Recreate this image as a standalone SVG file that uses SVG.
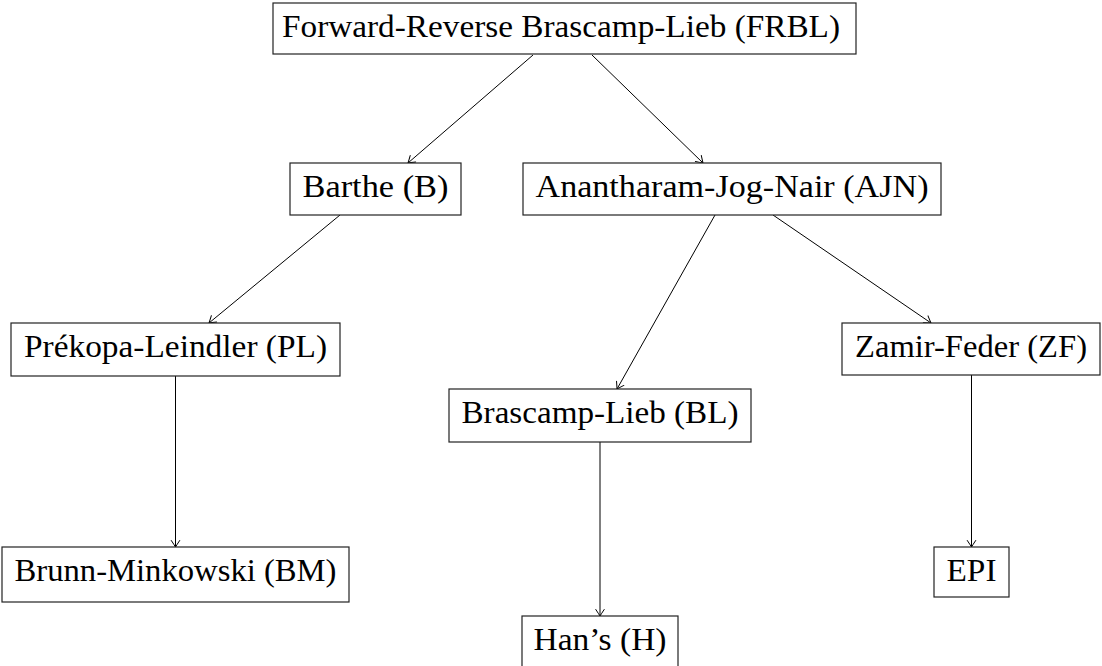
<svg xmlns="http://www.w3.org/2000/svg" width="1102" height="666" viewBox="0 0 1102 666">
<defs>
<marker id="to" markerUnits="userSpaceOnUse" markerWidth="12" markerHeight="12" viewBox="-8 -6 10 12" refX="0" refY="0" orient="auto">
<path d="M -6.5,-4.2 Q -2,-1.2 0,0 Q -2,1.2 -6.5,4.2" fill="none" stroke="#000" stroke-width="1" stroke-linecap="round"/>
</marker>
</defs>
<style>
.box{fill:#fff;stroke:#222;stroke-width:1.2}
.lbl{font-family:"Liberation Serif","Times New Roman",serif;font-size:31px;fill:#000;text-anchor:middle}
.edge{fill:none;stroke:#000;stroke-width:1;marker-end:url(#to)}
</style>
<rect width="1102" height="666" fill="#fff"/>
<g id="connectors">
<line class="edge" x1="533" y1="55" x2="408" y2="163"/>
<line class="edge" x1="592" y1="55" x2="703" y2="163"/>
<line class="edge" x1="340" y1="215" x2="209" y2="323"/>
<line class="edge" x1="715" y1="215" x2="617" y2="389"/>
<line class="edge" x1="773" y1="215" x2="931" y2="323"/>
<line class="edge" x1="175.5" y1="376" x2="175.5" y2="547"/>
<line class="edge" x1="600" y1="442" x2="600" y2="616"/>
<line class="edge" x1="971.5" y1="375" x2="971.5" y2="547"/>
</g>
<g id="FRBL"><rect class="box" x="273" y="3" width="583" height="51"/><text class="lbl" x="561" y="37" textLength="558" lengthAdjust="spacingAndGlyphs">Forward-Reverse Brascamp-Lieb (FRBL)</text></g>
<g id="B"><rect class="box" x="290" y="163" width="171" height="52"/><text class="lbl" x="375.5" y="197" textLength="146" lengthAdjust="spacingAndGlyphs">Barthe (B)</text></g>
<g id="AJN"><rect class="box" x="523" y="163" width="418" height="52"/><text class="lbl" x="732" y="197" textLength="393" lengthAdjust="spacingAndGlyphs">Anantharam-Jog-Nair (AJN)</text></g>
<g id="PL"><rect class="box" x="11" y="323" width="329" height="53"/><text class="lbl" x="175.5" y="357" textLength="303" lengthAdjust="spacingAndGlyphs">Prékopa-Leindler (PL)</text></g>
<g id="ZF"><rect class="box" x="842" y="323" width="258" height="52"/><text class="lbl" x="971" y="357" textLength="232" lengthAdjust="spacingAndGlyphs">Zamir-Feder (ZF)</text></g>
<g id="BL"><rect class="box" x="449" y="389" width="302" height="53"/><text class="lbl" x="600" y="423" textLength="277" lengthAdjust="spacingAndGlyphs">Brascamp-Lieb (BL)</text></g>
<g id="BM"><rect class="box" x="2" y="547" width="347" height="55"/><text class="lbl" x="175.5" y="581" textLength="322" lengthAdjust="spacingAndGlyphs">Brunn-Minkowski (BM)</text></g>
<g id="EPI"><rect class="box" x="934" y="547" width="75" height="50"/><text class="lbl" x="971.5" y="581" textLength="50" lengthAdjust="spacingAndGlyphs">EPI</text></g>
<g id="H"><rect class="box" x="522" y="616" width="156" height="53"/><text class="lbl" x="600" y="650" textLength="133" lengthAdjust="spacingAndGlyphs">Han’s (H)</text></g>
</svg>
